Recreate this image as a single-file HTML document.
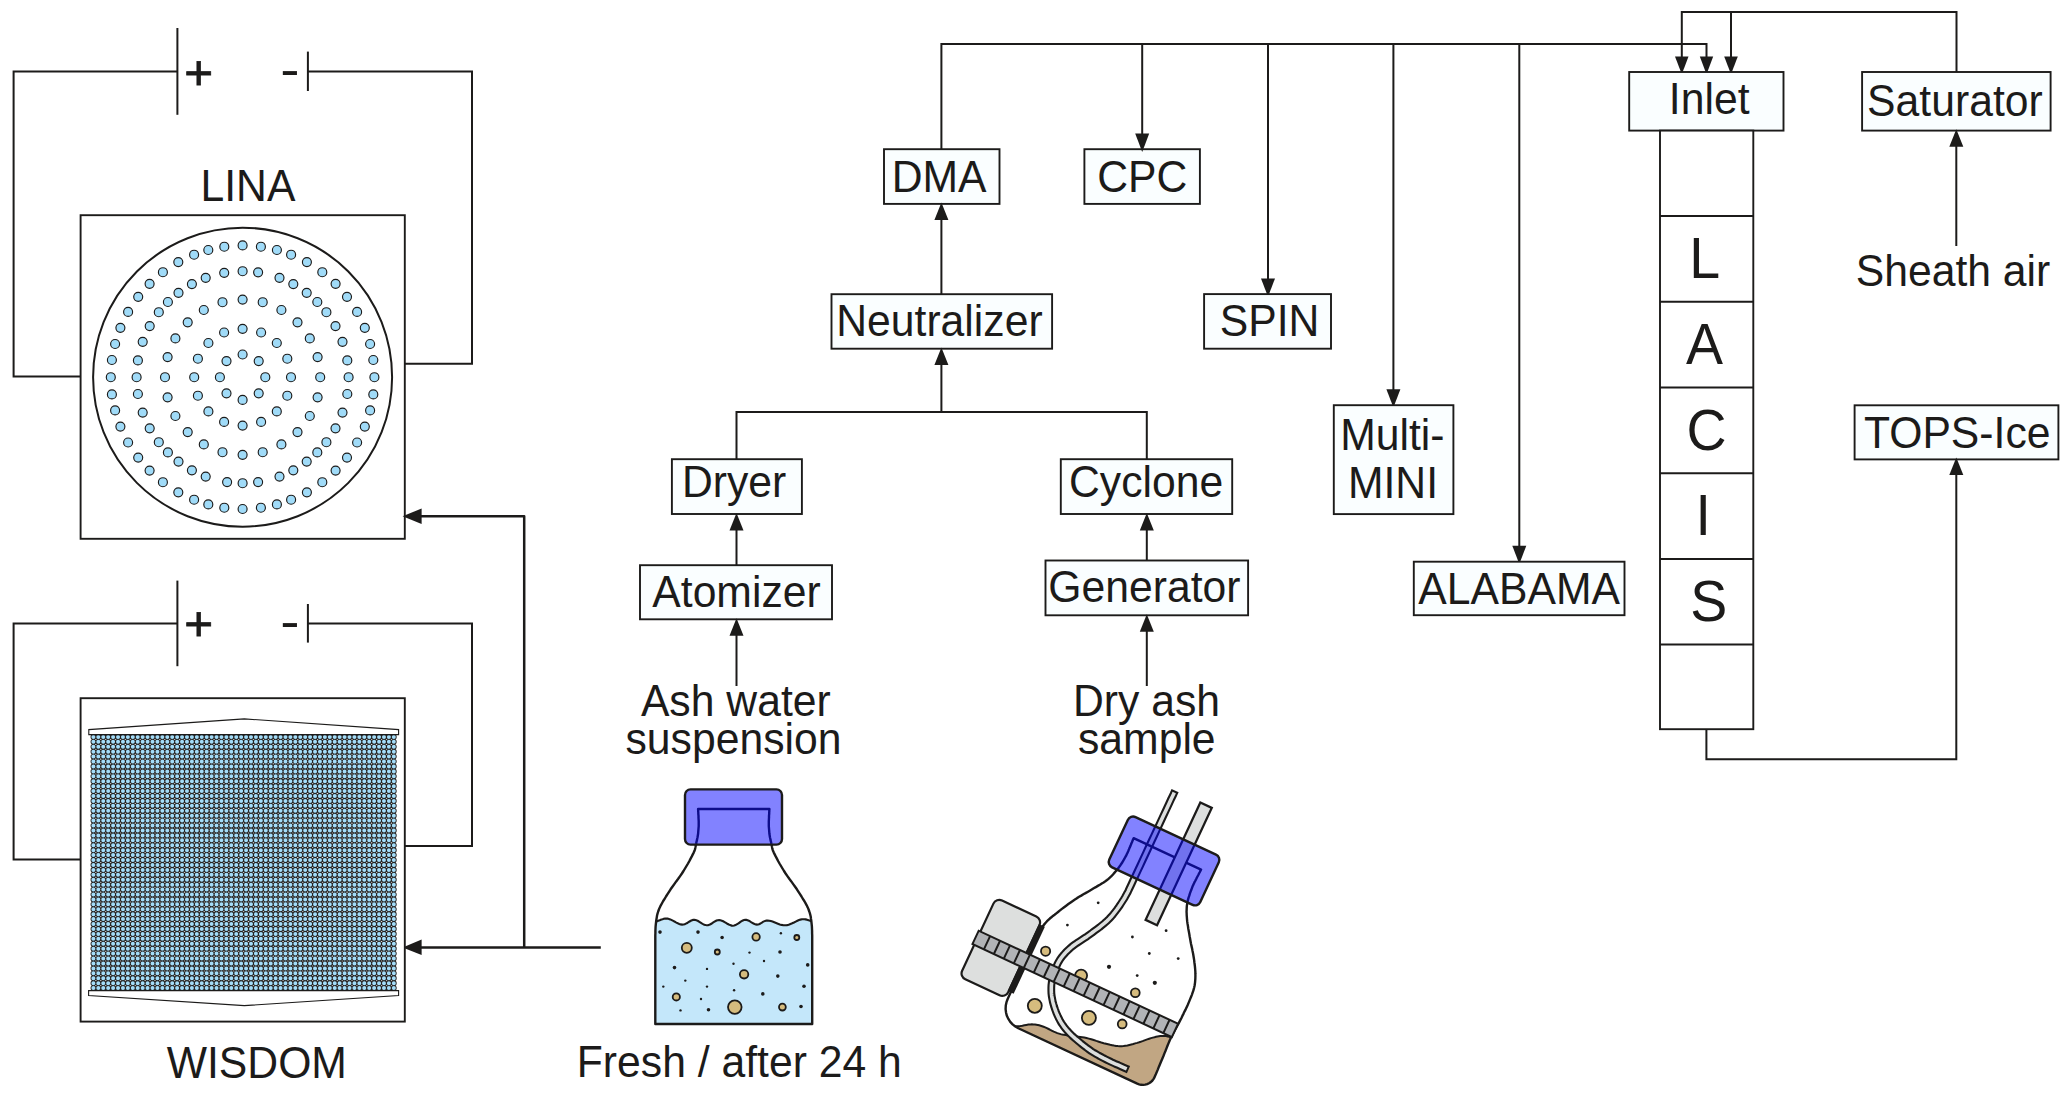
<!DOCTYPE html><html><head><meta charset="utf-8"><title>Setup</title><style>html,body{margin:0;padding:0;background:#fff}svg{display:block}text{font-family:"Liberation Sans",Arial,sans-serif;fill:#1c1b1a}</style></head><body>
<svg width="2066" height="1102" viewBox="0 0 2066 1102">
<rect width="2066" height="1102" fill="#fff"/>
<defs>
</defs>
<path d="M177.4,71.6 L13.6,71.6 L13.6,376.5 L80.6,376.5" fill="none" stroke="#1c1b1a" stroke-width="2.0" />
<path d="M307.9,71.6 L472.0,71.6 L472.0,363.8 L404.8,363.8" fill="none" stroke="#1c1b1a" stroke-width="2.0" />
<path d="M177.4,28.0 L177.4,114.8" fill="none" stroke="#1c1b1a" stroke-width="2.0" />
<path d="M307.9,51.6 L307.9,91.0" fill="none" stroke="#1c1b1a" stroke-width="2.0" />
<text transform="translate(198.7,88.6) scale(1,0.96)" font-size="49.5" text-anchor="middle" stroke="#1c1b1a" stroke-width="0.8">+</text>
<text transform="translate(289.8,85.8) scale(1,0.85)" font-size="58" text-anchor="middle" >-</text>
<text transform="translate(247.9,201.1) scale(1,1.055)" font-size="42.7" text-anchor="middle" >LINA</text>
<rect x="80.6" y="215.2" width="324.2" height="323.6" fill="#fff" stroke="#1c1b1a" stroke-width="1.9"/>
<circle cx="242.6" cy="377.2" r="149.5" fill="#fff" stroke="#1c1b1a" stroke-width="2"/>
<g fill="#a0dbf8" stroke="#1c1b1a" stroke-width="1.15">
<circle cx="110.8" cy="377.2" r="4.5"/>
<circle cx="111.9" cy="360.0" r="4.5"/>
<circle cx="111.9" cy="394.4" r="4.5"/>
<circle cx="115.1" cy="344.0" r="4.5"/>
<circle cx="115.1" cy="410.4" r="4.5"/>
<circle cx="120.4" cy="327.8" r="4.5"/>
<circle cx="120.4" cy="426.6" r="4.5"/>
<circle cx="128.1" cy="311.9" r="4.5"/>
<circle cx="128.1" cy="442.5" r="4.5"/>
<circle cx="136.6" cy="377.2" r="4.5"/>
<circle cx="137.9" cy="360.4" r="4.5"/>
<circle cx="137.9" cy="394.0" r="4.5"/>
<circle cx="138.2" cy="296.8" r="4.5"/>
<circle cx="138.2" cy="457.6" r="4.5"/>
<circle cx="142.7" cy="341.8" r="4.5"/>
<circle cx="142.7" cy="412.6" r="4.5"/>
<circle cx="149.6" cy="283.8" r="4.5"/>
<circle cx="149.6" cy="470.6" r="4.5"/>
<circle cx="149.7" cy="326.1" r="4.5"/>
<circle cx="149.7" cy="428.3" r="4.5"/>
<circle cx="158.8" cy="312.2" r="4.5"/>
<circle cx="158.8" cy="442.2" r="4.5"/>
<circle cx="162.9" cy="272.2" r="4.5"/>
<circle cx="162.9" cy="482.2" r="4.5"/>
<circle cx="165.0" cy="377.2" r="4.5"/>
<circle cx="167.6" cy="357.1" r="4.5"/>
<circle cx="167.6" cy="397.3" r="4.5"/>
<circle cx="167.9" cy="302.0" r="4.5"/>
<circle cx="167.9" cy="452.4" r="4.5"/>
<circle cx="175.4" cy="338.4" r="4.5"/>
<circle cx="175.4" cy="416.0" r="4.5"/>
<circle cx="178.3" cy="262.1" r="4.5"/>
<circle cx="178.3" cy="492.3" r="4.5"/>
<circle cx="178.5" cy="292.8" r="4.5"/>
<circle cx="178.5" cy="461.6" r="4.5"/>
<circle cx="187.7" cy="322.3" r="4.5"/>
<circle cx="187.7" cy="432.1" r="4.5"/>
<circle cx="191.9" cy="284.1" r="4.5"/>
<circle cx="191.9" cy="470.3" r="4.5"/>
<circle cx="194.1" cy="254.7" r="4.5"/>
<circle cx="194.1" cy="499.7" r="4.5"/>
<circle cx="194.2" cy="377.2" r="4.5"/>
<circle cx="197.9" cy="358.7" r="4.5"/>
<circle cx="197.9" cy="395.7" r="4.5"/>
<circle cx="203.8" cy="310.0" r="4.5"/>
<circle cx="203.8" cy="444.4" r="4.5"/>
<circle cx="205.7" cy="277.8" r="4.5"/>
<circle cx="205.7" cy="476.6" r="4.5"/>
<circle cx="208.3" cy="250.0" r="4.5"/>
<circle cx="208.3" cy="504.4" r="4.5"/>
<circle cx="208.4" cy="343.0" r="4.5"/>
<circle cx="208.4" cy="411.4" r="4.5"/>
<circle cx="219.9" cy="377.2" r="4.5"/>
<circle cx="222.5" cy="302.2" r="4.5"/>
<circle cx="222.5" cy="452.2" r="4.5"/>
<circle cx="224.1" cy="332.5" r="4.5"/>
<circle cx="224.1" cy="421.9" r="4.5"/>
<circle cx="224.2" cy="272.8" r="4.5"/>
<circle cx="224.3" cy="246.7" r="4.5"/>
<circle cx="224.3" cy="507.7" r="4.5"/>
<circle cx="226.5" cy="361.1" r="4.5"/>
<circle cx="226.5" cy="393.3" r="4.5"/>
<circle cx="227.1" cy="482.1" r="4.5"/>
<circle cx="242.6" cy="245.4" r="4.5"/>
<circle cx="242.6" cy="271.2" r="4.5"/>
<circle cx="242.6" cy="299.6" r="4.5"/>
<circle cx="242.6" cy="328.8" r="4.5"/>
<circle cx="242.6" cy="354.5" r="4.5"/>
<circle cx="242.6" cy="399.9" r="4.5"/>
<circle cx="242.6" cy="425.6" r="4.5"/>
<circle cx="242.6" cy="454.8" r="4.5"/>
<circle cx="242.6" cy="483.2" r="4.5"/>
<circle cx="242.6" cy="509.0" r="4.5"/>
<circle cx="258.1" cy="272.3" r="4.5"/>
<circle cx="258.1" cy="482.1" r="4.5"/>
<circle cx="258.7" cy="361.1" r="4.5"/>
<circle cx="258.7" cy="393.3" r="4.5"/>
<circle cx="260.9" cy="246.7" r="4.5"/>
<circle cx="260.9" cy="507.7" r="4.5"/>
<circle cx="261.1" cy="332.5" r="4.5"/>
<circle cx="261.1" cy="421.9" r="4.5"/>
<circle cx="262.7" cy="302.2" r="4.5"/>
<circle cx="262.7" cy="452.2" r="4.5"/>
<circle cx="265.3" cy="377.2" r="4.5"/>
<circle cx="276.8" cy="343.0" r="4.5"/>
<circle cx="276.8" cy="411.4" r="4.5"/>
<circle cx="276.9" cy="250.0" r="4.5"/>
<circle cx="276.9" cy="504.4" r="4.5"/>
<circle cx="279.5" cy="277.8" r="4.5"/>
<circle cx="279.5" cy="476.6" r="4.5"/>
<circle cx="281.4" cy="310.0" r="4.5"/>
<circle cx="281.4" cy="444.4" r="4.5"/>
<circle cx="287.3" cy="358.7" r="4.5"/>
<circle cx="287.3" cy="395.7" r="4.5"/>
<circle cx="291.0" cy="377.2" r="4.5"/>
<circle cx="291.1" cy="254.7" r="4.5"/>
<circle cx="291.1" cy="499.7" r="4.5"/>
<circle cx="293.3" cy="284.1" r="4.5"/>
<circle cx="293.3" cy="470.3" r="4.5"/>
<circle cx="297.5" cy="322.3" r="4.5"/>
<circle cx="297.5" cy="432.1" r="4.5"/>
<circle cx="306.7" cy="292.8" r="4.5"/>
<circle cx="306.7" cy="461.6" r="4.5"/>
<circle cx="306.9" cy="262.1" r="4.5"/>
<circle cx="306.9" cy="492.3" r="4.5"/>
<circle cx="309.8" cy="338.4" r="4.5"/>
<circle cx="309.8" cy="416.0" r="4.5"/>
<circle cx="317.3" cy="302.0" r="4.5"/>
<circle cx="317.3" cy="452.4" r="4.5"/>
<circle cx="317.6" cy="357.1" r="4.5"/>
<circle cx="317.6" cy="397.3" r="4.5"/>
<circle cx="320.2" cy="377.2" r="4.5"/>
<circle cx="322.3" cy="272.2" r="4.5"/>
<circle cx="322.3" cy="482.2" r="4.5"/>
<circle cx="326.4" cy="312.2" r="4.5"/>
<circle cx="326.4" cy="442.2" r="4.5"/>
<circle cx="335.5" cy="326.1" r="4.5"/>
<circle cx="335.5" cy="428.3" r="4.5"/>
<circle cx="335.6" cy="283.8" r="4.5"/>
<circle cx="335.6" cy="470.6" r="4.5"/>
<circle cx="342.5" cy="341.8" r="4.5"/>
<circle cx="342.5" cy="412.6" r="4.5"/>
<circle cx="347.0" cy="296.8" r="4.5"/>
<circle cx="347.0" cy="457.6" r="4.5"/>
<circle cx="347.3" cy="360.4" r="4.5"/>
<circle cx="347.3" cy="394.0" r="4.5"/>
<circle cx="348.6" cy="377.2" r="4.5"/>
<circle cx="357.1" cy="311.9" r="4.5"/>
<circle cx="357.1" cy="442.5" r="4.5"/>
<circle cx="364.8" cy="327.8" r="4.5"/>
<circle cx="364.8" cy="426.6" r="4.5"/>
<circle cx="370.1" cy="344.0" r="4.5"/>
<circle cx="370.1" cy="410.4" r="4.5"/>
<circle cx="373.3" cy="360.0" r="4.5"/>
<circle cx="373.3" cy="394.4" r="4.5"/>
<circle cx="374.4" cy="377.2" r="4.5"/>
</g>
<path d="M420.0,516.2 L524.2,516.2 L524.2,947.4" fill="none" stroke="#1c1b1a" stroke-width="2.5" stroke-linejoin="round"/>
<path d="M420.0,947.4 L600.8,947.4" fill="none" stroke="#1c1b1a" stroke-width="2.5" />
<polygon points="402.6,516.3 421.6,508.5 421.6,524.0" fill="#1c1b1a"/>
<polygon points="402.6,947.4 421.6,939.6 421.6,955.1" fill="#1c1b1a"/>
<path d="M177.4,623.4 L13.6,623.4 L13.6,859.4 L80.6,859.4" fill="none" stroke="#1c1b1a" stroke-width="2.0" />
<path d="M307.9,623.4 L472.0,623.4 L472.0,846.0 L404.8,846.0" fill="none" stroke="#1c1b1a" stroke-width="2.0" />
<path d="M177.4,580.6 L177.4,666.2" fill="none" stroke="#1c1b1a" stroke-width="2.0" />
<path d="M307.9,604.0 L307.9,642.6" fill="none" stroke="#1c1b1a" stroke-width="2.0" />
<text transform="translate(198.7,640.4) scale(1,0.96)" font-size="49.5" text-anchor="middle" stroke="#1c1b1a" stroke-width="0.8">+</text>
<text transform="translate(289.8,637.6) scale(1,0.85)" font-size="58" text-anchor="middle" >-</text>
<rect x="80.6" y="698.2" width="324.2" height="323.4" fill="#fff" stroke="#1c1b1a" stroke-width="1.9"/>
<path d="M93.4,736.90h300.6M93.4,741.82h300.6M93.4,746.75h300.6M93.4,751.67h300.6M93.4,756.60h300.6M93.4,761.52h300.6M93.4,766.45h300.6M93.4,771.38h300.6M93.4,776.30h300.6M93.4,781.23h300.6M93.4,786.15h300.6M93.4,791.07h300.6M93.4,796.00h300.6M93.4,800.92h300.6M93.4,805.85h300.6M93.4,810.77h300.6M93.4,815.70h300.6M93.4,820.62h300.6M93.4,825.55h300.6M93.4,830.48h300.6M93.4,835.40h300.6M93.4,840.32h300.6M93.4,845.25h300.6M93.4,850.17h300.6M93.4,855.10h300.6M93.4,860.02h300.6M93.4,864.95h300.6M93.4,869.88h300.6M93.4,874.80h300.6M93.4,879.72h300.6M93.4,884.65h300.6M93.4,889.57h300.6M93.4,894.50h300.6M93.4,899.42h300.6M93.4,904.35h300.6M93.4,909.27h300.6M93.4,914.20h300.6M93.4,919.12h300.6M93.4,924.05h300.6M93.4,928.97h300.6M93.4,933.90h300.6M93.4,938.82h300.6M93.4,943.75h300.6M93.4,948.67h300.6M93.4,953.60h300.6M93.4,958.52h300.6M93.4,963.45h300.6M93.4,968.38h300.6M93.4,973.30h300.6M93.4,978.22h300.6M93.4,983.15h300.6M93.4,988.07h300.6" fill="none" stroke="#242322" stroke-width="5.75" stroke-linecap="round" stroke-dasharray="0 4.925"/>
<path d="M93.4,736.90h300.6M93.4,741.82h300.6M93.4,746.75h300.6M93.4,751.67h300.6M93.4,756.60h300.6M93.4,761.52h300.6M93.4,766.45h300.6M93.4,771.38h300.6M93.4,776.30h300.6M93.4,781.23h300.6M93.4,786.15h300.6M93.4,791.07h300.6M93.4,796.00h300.6M93.4,800.92h300.6M93.4,805.85h300.6M93.4,810.77h300.6M93.4,815.70h300.6M93.4,820.62h300.6M93.4,825.55h300.6M93.4,830.48h300.6M93.4,835.40h300.6M93.4,840.32h300.6M93.4,845.25h300.6M93.4,850.17h300.6M93.4,855.10h300.6M93.4,860.02h300.6M93.4,864.95h300.6M93.4,869.88h300.6M93.4,874.80h300.6M93.4,879.72h300.6M93.4,884.65h300.6M93.4,889.57h300.6M93.4,894.50h300.6M93.4,899.42h300.6M93.4,904.35h300.6M93.4,909.27h300.6M93.4,914.20h300.6M93.4,919.12h300.6M93.4,924.05h300.6M93.4,928.97h300.6M93.4,933.90h300.6M93.4,938.82h300.6M93.4,943.75h300.6M93.4,948.67h300.6M93.4,953.60h300.6M93.4,958.52h300.6M93.4,963.45h300.6M93.4,968.38h300.6M93.4,973.30h300.6M93.4,978.22h300.6M93.4,983.15h300.6M93.4,988.07h300.6" fill="none" stroke="#a4dcf8" stroke-width="4.0" stroke-linecap="round" stroke-dasharray="0 4.925"/>
<polygon points="88.8,734.6 88.8,729.6 244.3,718.9 398.6,729.6 398.6,734.6" fill="#fff" stroke="#1c1b1a" stroke-width="1.1"/>
<polygon points="88.6,990.6 88.6,995.6 244.3,1005.6 398.6,995.6 398.6,990.6" fill="#fff" stroke="#1c1b1a" stroke-width="1.1"/>
<text transform="translate(256.8,1077.7) scale(1,1.055)" font-size="42.7" text-anchor="middle" >WISDOM</text>
<path d="M941.4,149.2 L941.4,43.9 L1706.5,43.9 L1706.5,60.0" fill="none" stroke="#1c1b1a" stroke-width="2.0" />
<rect x="884.0" y="149.2" width="115.5" height="54.7" fill="#fafeff" stroke="#1c1b1a" stroke-width="1.9"/>
<text transform="translate(939.1,191.6) scale(1,1.055)" font-size="42.7" text-anchor="middle" >DMA</text>
<rect x="1084.4" y="149.2" width="115.5" height="54.7" fill="#fafeff" stroke="#1c1b1a" stroke-width="1.9"/>
<text transform="translate(1142.2,191.6) scale(1,1.055)" font-size="42.7" text-anchor="middle" >CPC</text>
<path d="M1142.2,43.9 L1142.2,135.0" fill="none" stroke="#1c1b1a" stroke-width="2.0" />
<polygon points="1142.2,151.9 1135.2,133.6 1149.2,133.6" fill="#1c1b1a"/>
<path d="M1268.0,43.9 L1268.0,280.0" fill="none" stroke="#1c1b1a" stroke-width="2.0" />
<polygon points="1268.0,296.7 1261.0,278.4 1275.0,278.4" fill="#1c1b1a"/>
<rect x="1204.1" y="294.1" width="126.9" height="54.6" fill="#fafeff" stroke="#1c1b1a" stroke-width="1.9"/>
<text transform="translate(1269.5,335.9) scale(1,1.055)" font-size="42.7" text-anchor="middle" >SPIN</text>
<path d="M1393.4,43.9 L1393.4,390.0" fill="none" stroke="#1c1b1a" stroke-width="2.0" />
<polygon points="1393.4,407.5 1386.4,389.2 1400.4,389.2" fill="#1c1b1a"/>
<rect x="1333.8" y="405.2" width="119.6" height="108.9" fill="#fafeff" stroke="#1c1b1a" stroke-width="1.9"/>
<text transform="translate(1392.4,449.7) scale(1,1.055)" font-size="42.7" text-anchor="middle" >Multi-</text>
<text transform="translate(1393.0,497.9) scale(1,1.055)" font-size="42.7" text-anchor="middle" >MINI</text>
<path d="M1519.3,43.9 L1519.3,548.0" fill="none" stroke="#1c1b1a" stroke-width="2.0" />
<polygon points="1519.3,564.1 1512.3,545.8 1526.3,545.8" fill="#1c1b1a"/>
<rect x="1413.8" y="561.7" width="210.7" height="53.5" fill="#fafeff" stroke="#1c1b1a" stroke-width="1.9"/>
<text transform="translate(1519.1,603.8) scale(1,1.055)" font-size="42.7" text-anchor="middle" >ALABAMA</text>
<path d="M941.4,219.0 L941.4,294.2" fill="none" stroke="#1c1b1a" stroke-width="2.0" />
<polygon points="941.4,202.5 934.4,220.0 948.4,220.0" fill="#1c1b1a"/>
<rect x="831.5" y="294.2" width="220.6" height="54.5" fill="#fafeff" stroke="#1c1b1a" stroke-width="1.9"/>
<text transform="translate(939.4,335.6) scale(1,1.055)" font-size="42.7" text-anchor="middle" >Neutralizer</text>
<path d="M941.4,364.0 L941.4,412.0" fill="none" stroke="#1c1b1a" stroke-width="2.0" />
<polygon points="941.4,347.5 934.4,365.0 948.4,365.0" fill="#1c1b1a"/>
<path d="M736.5,459.2 L736.5,412.0 L1146.8,412.0 L1146.8,459.2" fill="none" stroke="#1c1b1a" stroke-width="2.0" />
<rect x="671.9" y="459.2" width="130.0" height="54.8" fill="#fafeff" stroke="#1c1b1a" stroke-width="1.9"/>
<text transform="translate(734.1,497.0) scale(1,1.055)" font-size="42.7" text-anchor="middle" >Dryer</text>
<rect x="1060.8" y="459.2" width="171.4" height="54.8" fill="#fafeff" stroke="#1c1b1a" stroke-width="1.9"/>
<text transform="translate(1146.1,497.0) scale(1,1.055)" font-size="42.7" text-anchor="middle" >Cyclone</text>
<path d="M736.5,530.0 L736.5,565.2" fill="none" stroke="#1c1b1a" stroke-width="2.0" />
<polygon points="736.5,513.0 729.5,530.5 743.5,530.5" fill="#1c1b1a"/>
<path d="M1146.8,530.0 L1146.8,560.5" fill="none" stroke="#1c1b1a" stroke-width="2.0" />
<polygon points="1146.8,513.0 1139.8,530.5 1153.8,530.5" fill="#1c1b1a"/>
<rect x="640.0" y="565.2" width="192.0" height="54.1" fill="#fafeff" stroke="#1c1b1a" stroke-width="1.9"/>
<text transform="translate(736.5,607.0) scale(1,1.055)" font-size="42.7" text-anchor="middle" >Atomizer</text>
<rect x="1045.5" y="560.5" width="202.6" height="54.8" fill="#fafeff" stroke="#1c1b1a" stroke-width="1.9"/>
<text transform="translate(1144.4,602.2) scale(1,1.055)" font-size="42.7" text-anchor="middle" >Generator</text>
<path d="M736.5,635.0 L736.5,686.0" fill="none" stroke="#1c1b1a" stroke-width="2.0" />
<polygon points="736.5,618.3 729.5,635.8 743.5,635.8" fill="#1c1b1a"/>
<path d="M1146.8,631.0 L1146.8,686.0" fill="none" stroke="#1c1b1a" stroke-width="2.0" />
<polygon points="1146.8,614.3 1139.8,631.8 1153.8,631.8" fill="#1c1b1a"/>
<text transform="translate(735.8,715.9) scale(1,1.055)" font-size="42.7" text-anchor="middle" >Ash water</text>
<text transform="translate(733.5,754.0) scale(1,1.055)" font-size="42.7" text-anchor="middle" >suspension</text>
<text transform="translate(1146.5,715.9) scale(1,1.055)" font-size="42.7" text-anchor="middle" >Dry ash</text>
<text transform="translate(1146.8,754.0) scale(1,1.055)" font-size="42.7" text-anchor="middle" >sample</text>
<text transform="translate(739.3,1077.3) scale(1,1.055)" font-size="42.7" text-anchor="middle" >Fresh / after 24 h</text>
<path d="M1956.5,72.0 L1956.5,12.0 L1681.8,12.0 L1681.8,60.0" fill="none" stroke="#1c1b1a" stroke-width="2.0" />
<path d="M1731.0,12.0 L1731.0,60.0" fill="none" stroke="#1c1b1a" stroke-width="2.0" />
<polygon points="1681.8,74.3 1675.0,56.5 1688.5,56.5" fill="#1c1b1a"/>
<polygon points="1706.5,74.3 1699.8,56.5 1713.2,56.5" fill="#1c1b1a"/>
<polygon points="1731.0,74.3 1724.2,56.5 1737.8,56.5" fill="#1c1b1a"/>
<rect x="1629.2" y="72.0" width="154.3" height="58.6" fill="#fafeff" stroke="#1c1b1a" stroke-width="1.9"/>
<text transform="translate(1709.2,113.5) scale(1,1.055)" font-size="42.7" text-anchor="middle" >Inlet</text>
<rect x="1862.1" y="72.0" width="188.5" height="58.6" fill="#fafeff" stroke="#1c1b1a" stroke-width="1.9"/>
<text transform="translate(1954.9,115.9) scale(1,1.055)" font-size="42.7" text-anchor="middle" >Saturator</text>
<path d="M1956.3,146.0 L1956.3,246.0" fill="none" stroke="#1c1b1a" stroke-width="2.0" />
<polygon points="1956.3,129.3 1949.3,146.8 1963.3,146.8" fill="#1c1b1a"/>
<text transform="translate(1953.0,285.6) scale(1,1.055)" font-size="42.7" text-anchor="middle" >Sheath air</text>
<rect x="1854.6" y="405.3" width="203.8" height="54.1" fill="#fafeff" stroke="#1c1b1a" stroke-width="1.9"/>
<text transform="translate(1957.2,447.7) scale(1,1.055)" font-size="42.7" text-anchor="middle" >TOPS-Ice</text>
<rect x="1660" y="130.6" width="93.3" height="598.6" fill="#fff" stroke="#1c1b1a" stroke-width="1.9"/>
<path d="M1660.0,215.9 L1753.3,215.9" fill="none" stroke="#1c1b1a" stroke-width="2.0" />
<path d="M1660.0,301.7 L1753.3,301.7" fill="none" stroke="#1c1b1a" stroke-width="2.0" />
<path d="M1660.0,387.5 L1753.3,387.5" fill="none" stroke="#1c1b1a" stroke-width="2.0" />
<path d="M1660.0,473.3 L1753.3,473.3" fill="none" stroke="#1c1b1a" stroke-width="2.0" />
<path d="M1660.0,559.1 L1753.3,559.1" fill="none" stroke="#1c1b1a" stroke-width="2.0" />
<path d="M1660.0,644.6 L1753.3,644.6" fill="none" stroke="#1c1b1a" stroke-width="2.0" />
<text transform="translate(1704.6,277.8) scale(1,1.05)" font-size="55.5" text-anchor="middle" >L</text>
<text transform="translate(1704.6,363.8) scale(1,1.05)" font-size="55.5" text-anchor="middle" >A</text>
<text transform="translate(1706.6,449.7) scale(1,1.05)" font-size="55.5" text-anchor="middle" >C</text>
<text transform="translate(1703.3,535.3) scale(1,1.05)" font-size="55.5" text-anchor="middle" >I</text>
<text transform="translate(1708.8,620.8) scale(1,1.05)" font-size="55.5" text-anchor="middle" >S</text>
<path d="M1706.4,729.2 L1706.4,759.3 L1956.3,759.3 L1956.3,474.0" fill="none" stroke="#1c1b1a" stroke-width="2.0" />
<polygon points="1956.3,457.6 1949.3,475.1 1963.3,475.1" fill="#1c1b1a"/><clipPath id="b1clip"><polygon points="698.1,809.0 698.1,809.6 698.2,810.4 698.2,811.4 698.3,812.5 698.3,813.6 698.4,814.8 698.5,815.9 698.5,817.0 698.5,818.0 698.6,819.0 698.6,819.9 698.7,820.9 698.7,821.9 698.7,822.9 698.7,823.9 698.7,825.0 698.7,826.2 698.6,827.4 698.5,828.6 698.4,829.9 698.3,831.2 698.2,832.5 698.1,833.8 697.9,835.0 697.7,836.2 697.5,837.5 697.2,838.7 697.0,839.9 696.7,841.1 696.4,842.3 696.2,843.5 695.9,844.6 695.7,845.6 695.6,846.5 695.4,847.3 695.3,848.0 695.1,848.9 694.8,849.9 694.4,851.1 693.7,852.6 692.8,854.4 691.8,856.4 690.6,858.6 689.4,861.0 688.0,863.5 686.5,866.0 685.0,868.5 683.5,871.0 681.9,873.5 680.1,876.1 678.2,878.8 676.2,881.4 674.3,884.1 672.4,886.8 670.6,889.3 669.0,891.8 667.5,894.2 666.0,896.5 664.6,898.8 663.2,901.0 662.0,903.2 660.8,905.3 659.8,907.4 658.9,909.5 658.2,911.5 657.6,913.4 657.1,915.3 656.8,917.1 656.5,919.0 656.2,920.8 656.0,922.6 655.8,924.5 655.6,926.5 655.5,928.7 655.4,931.0 655.4,933.2 655.3,935.3 655.3,937.2 655.3,938.8 655.3,940.0 655.3,1024.0 812.2,1024.0 812.2,940.0 812.2,938.8 812.2,937.2 812.2,935.3 812.1,933.2 812.1,931.0 812.0,928.7 811.9,926.5 811.7,924.5 811.5,922.6 811.3,920.8 811.0,919.0 810.8,917.1 810.4,915.3 809.9,913.4 809.3,911.5 808.6,909.5 807.7,907.4 806.7,905.3 805.5,903.2 804.3,901.0 802.9,898.8 801.5,896.5 800.0,894.2 798.5,891.8 796.9,889.3 795.1,886.8 793.2,884.1 791.3,881.4 789.3,878.8 787.4,876.1 785.6,873.5 784.0,871.0 782.5,868.5 781.0,866.0 779.5,863.5 778.1,861.0 776.9,858.6 775.7,856.4 774.7,854.4 773.8,852.6 773.1,851.1 772.7,849.9 772.4,848.9 772.2,848.0 772.1,847.3 771.9,846.5 771.8,845.6 771.6,844.6 771.3,843.5 771.1,842.3 770.8,841.1 770.5,839.9 770.3,838.7 770.0,837.5 769.8,836.2 769.6,835.0 769.4,833.8 769.3,832.5 769.2,831.2 769.1,829.9 769.0,828.6 768.9,827.4 768.8,826.2 768.8,825.0 768.8,823.9 768.8,822.9 768.8,821.9 768.8,820.9 768.9,819.9 768.9,819.0 769.0,818.0 769.0,817.0 769.0,815.9 769.1,814.8 769.2,813.6 769.2,812.5 769.3,811.4 769.3,810.4 769.4,809.6 769.4,809.0"/></clipPath>
<polygon points="698.1,809.0 698.1,809.6 698.2,810.4 698.2,811.4 698.3,812.5 698.3,813.6 698.4,814.8 698.5,815.9 698.5,817.0 698.5,818.0 698.6,819.0 698.6,819.9 698.7,820.9 698.7,821.9 698.7,822.9 698.7,823.9 698.7,825.0 698.7,826.2 698.6,827.4 698.5,828.6 698.4,829.9 698.3,831.2 698.2,832.5 698.1,833.8 697.9,835.0 697.7,836.2 697.5,837.5 697.2,838.7 697.0,839.9 696.7,841.1 696.4,842.3 696.2,843.5 695.9,844.6 695.7,845.6 695.6,846.5 695.4,847.3 695.3,848.0 695.1,848.9 694.8,849.9 694.4,851.1 693.7,852.6 692.8,854.4 691.8,856.4 690.6,858.6 689.4,861.0 688.0,863.5 686.5,866.0 685.0,868.5 683.5,871.0 681.9,873.5 680.1,876.1 678.2,878.8 676.2,881.4 674.3,884.1 672.4,886.8 670.6,889.3 669.0,891.8 667.5,894.2 666.0,896.5 664.6,898.8 663.2,901.0 662.0,903.2 660.8,905.3 659.8,907.4 658.9,909.5 658.2,911.5 657.6,913.4 657.1,915.3 656.8,917.1 656.5,919.0 656.2,920.8 656.0,922.6 655.8,924.5 655.6,926.5 655.5,928.7 655.4,931.0 655.4,933.2 655.3,935.3 655.3,937.2 655.3,938.8 655.3,940.0 655.3,1024.0 812.2,1024.0 812.2,940.0 812.2,938.8 812.2,937.2 812.2,935.3 812.1,933.2 812.1,931.0 812.0,928.7 811.9,926.5 811.7,924.5 811.5,922.6 811.3,920.8 811.0,919.0 810.8,917.1 810.4,915.3 809.9,913.4 809.3,911.5 808.6,909.5 807.7,907.4 806.7,905.3 805.5,903.2 804.3,901.0 802.9,898.8 801.5,896.5 800.0,894.2 798.5,891.8 796.9,889.3 795.1,886.8 793.2,884.1 791.3,881.4 789.3,878.8 787.4,876.1 785.6,873.5 784.0,871.0 782.5,868.5 781.0,866.0 779.5,863.5 778.1,861.0 776.9,858.6 775.7,856.4 774.7,854.4 773.8,852.6 773.1,851.1 772.7,849.9 772.4,848.9 772.2,848.0 772.1,847.3 771.9,846.5 771.8,845.6 771.6,844.6 771.3,843.5 771.1,842.3 770.8,841.1 770.5,839.9 770.3,838.7 770.0,837.5 769.8,836.2 769.6,835.0 769.4,833.8 769.3,832.5 769.2,831.2 769.1,829.9 769.0,828.6 768.9,827.4 768.8,826.2 768.8,825.0 768.8,823.9 768.8,822.9 768.8,821.9 768.8,820.9 768.9,819.9 768.9,819.0 769.0,818.0 769.0,817.0 769.0,815.9 769.1,814.8 769.2,813.6 769.2,812.5 769.3,811.4 769.3,810.4 769.4,809.6 769.4,809.0" fill="#fff"/>
<polygon clip-path="url(#b1clip)" points="650.0,923.5 650.4,923.4 650.8,923.2 651.3,923.1 651.8,922.9 652.4,922.7 653.1,922.5 653.8,922.2 654.6,922.0 655.4,921.7 656.3,921.5 657.2,921.2 658.2,920.8 659.2,920.4 660.3,920.0 661.4,919.5 662.6,919.2 663.8,918.8 665.1,918.6 666.3,918.5 667.6,918.6 668.9,918.9 670.3,919.4 671.8,920.1 673.3,920.9 674.8,921.7 676.3,922.6 677.8,923.3 679.3,923.9 680.7,924.4 682.1,924.6 683.4,924.5 684.7,924.2 685.9,923.6 687.2,923.0 688.4,922.2 689.6,921.5 690.8,920.8 692.0,920.3 693.2,919.9 694.4,919.8 695.6,920.0 696.9,920.4 698.1,921.0 699.4,921.8 700.6,922.6 701.8,923.4 703.1,924.1 704.3,924.7 705.6,925.1 706.8,925.3 708.0,925.2 709.2,924.8 710.5,924.2 711.7,923.5 712.9,922.7 714.1,921.9 715.3,921.2 716.5,920.6 717.8,920.2 719.1,920.1 720.4,920.3 721.8,920.7 723.2,921.3 724.6,922.1 726.0,922.9 727.4,923.8 728.8,924.5 730.2,925.1 731.6,925.6 732.9,925.7 734.2,925.5 735.5,925.1 736.7,924.4 738.0,923.7 739.2,922.8 740.4,921.9 741.6,921.1 742.8,920.5 744.0,920.0 745.2,919.8 746.4,919.9 747.6,920.2 748.8,920.7 750.0,921.4 751.1,922.1 752.3,922.8 753.5,923.5 754.6,924.0 755.8,924.4 756.9,924.6 758.0,924.5 759.0,924.2 760.0,923.7 761.0,923.2 761.9,922.6 762.9,921.9 764.0,921.4 765.1,920.9 766.4,920.6 767.7,920.5 769.2,920.7 770.8,921.1 772.5,921.6 774.3,922.3 776.1,923.0 777.9,923.7 779.8,924.4 781.6,924.9 783.5,925.2 785.2,925.3 786.9,925.1 788.7,924.7 790.5,924.0 792.2,923.3 794.0,922.5 795.7,921.6 797.4,920.8 799.0,920.1 800.5,919.6 801.9,919.3 803.2,919.2 804.4,919.2 805.6,919.4 806.6,919.6 807.7,919.9 808.6,920.2 809.6,920.6 810.5,920.9 811.4,921.3 812.3,921.5 813.2,921.7 814.1,921.9 815.1,922.2 815.9,922.4 816.8,922.6 817.6,922.9 818.3,923.1 819.0,923.2 819.6,923.4 820.0,923.5 820,1030 650,1030" fill="#c4e7fa"/>
<polyline clip-path="url(#b1clip)" points="650.0,923.5 650.4,923.4 650.8,923.2 651.3,923.1 651.8,922.9 652.4,922.7 653.1,922.5 653.8,922.2 654.6,922.0 655.4,921.7 656.3,921.5 657.2,921.2 658.2,920.8 659.2,920.4 660.3,920.0 661.4,919.5 662.6,919.2 663.8,918.8 665.1,918.6 666.3,918.5 667.6,918.6 668.9,918.9 670.3,919.4 671.8,920.1 673.3,920.9 674.8,921.7 676.3,922.6 677.8,923.3 679.3,923.9 680.7,924.4 682.1,924.6 683.4,924.5 684.7,924.2 685.9,923.6 687.2,923.0 688.4,922.2 689.6,921.5 690.8,920.8 692.0,920.3 693.2,919.9 694.4,919.8 695.6,920.0 696.9,920.4 698.1,921.0 699.4,921.8 700.6,922.6 701.8,923.4 703.1,924.1 704.3,924.7 705.6,925.1 706.8,925.3 708.0,925.2 709.2,924.8 710.5,924.2 711.7,923.5 712.9,922.7 714.1,921.9 715.3,921.2 716.5,920.6 717.8,920.2 719.1,920.1 720.4,920.3 721.8,920.7 723.2,921.3 724.6,922.1 726.0,922.9 727.4,923.8 728.8,924.5 730.2,925.1 731.6,925.6 732.9,925.7 734.2,925.5 735.5,925.1 736.7,924.4 738.0,923.7 739.2,922.8 740.4,921.9 741.6,921.1 742.8,920.5 744.0,920.0 745.2,919.8 746.4,919.9 747.6,920.2 748.8,920.7 750.0,921.4 751.1,922.1 752.3,922.8 753.5,923.5 754.6,924.0 755.8,924.4 756.9,924.6 758.0,924.5 759.0,924.2 760.0,923.7 761.0,923.2 761.9,922.6 762.9,921.9 764.0,921.4 765.1,920.9 766.4,920.6 767.7,920.5 769.2,920.7 770.8,921.1 772.5,921.6 774.3,922.3 776.1,923.0 777.9,923.7 779.8,924.4 781.6,924.9 783.5,925.2 785.2,925.3 786.9,925.1 788.7,924.7 790.5,924.0 792.2,923.3 794.0,922.5 795.7,921.6 797.4,920.8 799.0,920.1 800.5,919.6 801.9,919.3 803.2,919.2 804.4,919.2 805.6,919.4 806.6,919.6 807.7,919.9 808.6,920.2 809.6,920.6 810.5,920.9 811.4,921.3 812.3,921.5 813.2,921.7 814.1,921.9 815.1,922.2 815.9,922.4 816.8,922.6 817.6,922.9 818.3,923.1 819.0,923.2 819.6,923.4 820.0,923.5" fill="none" stroke="#1c1b1a" stroke-width="2.1"/>
<g fill="#d6bc7e" stroke="#1c1b1a" stroke-width="1.8"><circle cx="686.8" cy="947.8" r="5.0"/><circle cx="756.1" cy="936.9" r="3.7"/><circle cx="796.8" cy="937.5" r="2.5"/><circle cx="717.3" cy="952" r="2.5"/><circle cx="744.1" cy="974.3" r="4.2"/><circle cx="676.3" cy="996.9" r="3.6"/><circle cx="734.8" cy="1007.1" r="6.8"/><circle cx="782.4" cy="1007.1" r="3.4"/></g>
<g fill="#1c1b1a"><circle cx="660" cy="932.1" r="1.8"/><circle cx="698" cy="932.1" r="1.8"/><circle cx="722.1" cy="937.5" r="1.8"/><circle cx="780.9" cy="933.3" r="1.2"/><circle cx="749.5" cy="952.6" r="1.2"/><circle cx="780" cy="952" r="1.8"/><circle cx="764" cy="961" r="1.2"/><circle cx="807.7" cy="964.9" r="1.8"/><circle cx="674.5" cy="967.6" r="1.8"/><circle cx="707" cy="968.9" r="1.2"/><circle cx="733.5" cy="963.7" r="1.2"/><circle cx="685.3" cy="980.6" r="1.2"/><circle cx="777.8" cy="976.1" r="1.8"/><circle cx="663.3" cy="986.6" r="1.2"/><circle cx="707" cy="986.6" r="1.2"/><circle cx="734.1" cy="990.2" r="1.2"/><circle cx="804" cy="986.3" r="1.8"/><circle cx="762.8" cy="993.9" r="1.8"/><circle cx="701" cy="999" r="1.2"/><circle cx="680.5" cy="1010.4" r="1.2"/><circle cx="708.5" cy="1009.8" r="1.8"/><circle cx="801" cy="1006.5" r="1.8"/></g>
<polygon points="698.1,809.0 698.1,809.6 698.2,810.4 698.2,811.4 698.3,812.5 698.3,813.6 698.4,814.8 698.5,815.9 698.5,817.0 698.5,818.0 698.6,819.0 698.6,819.9 698.7,820.9 698.7,821.9 698.7,822.9 698.7,823.9 698.7,825.0 698.7,826.2 698.6,827.4 698.5,828.6 698.4,829.9 698.3,831.2 698.2,832.5 698.1,833.8 697.9,835.0 697.7,836.2 697.5,837.5 697.2,838.7 697.0,839.9 696.7,841.1 696.4,842.3 696.2,843.5 695.9,844.6 695.7,845.6 695.6,846.5 695.4,847.3 695.3,848.0 695.1,848.9 694.8,849.9 694.4,851.1 693.7,852.6 692.8,854.4 691.8,856.4 690.6,858.6 689.4,861.0 688.0,863.5 686.5,866.0 685.0,868.5 683.5,871.0 681.9,873.5 680.1,876.1 678.2,878.8 676.2,881.4 674.3,884.1 672.4,886.8 670.6,889.3 669.0,891.8 667.5,894.2 666.0,896.5 664.6,898.8 663.2,901.0 662.0,903.2 660.8,905.3 659.8,907.4 658.9,909.5 658.2,911.5 657.6,913.4 657.1,915.3 656.8,917.1 656.5,919.0 656.2,920.8 656.0,922.6 655.8,924.5 655.6,926.5 655.5,928.7 655.4,931.0 655.4,933.2 655.3,935.3 655.3,937.2 655.3,938.8 655.3,940.0 655.3,1024.0 812.2,1024.0 812.2,940.0 812.2,938.8 812.2,937.2 812.2,935.3 812.1,933.2 812.1,931.0 812.0,928.7 811.9,926.5 811.7,924.5 811.5,922.6 811.3,920.8 811.0,919.0 810.8,917.1 810.4,915.3 809.9,913.4 809.3,911.5 808.6,909.5 807.7,907.4 806.7,905.3 805.5,903.2 804.3,901.0 802.9,898.8 801.5,896.5 800.0,894.2 798.5,891.8 796.9,889.3 795.1,886.8 793.2,884.1 791.3,881.4 789.3,878.8 787.4,876.1 785.6,873.5 784.0,871.0 782.5,868.5 781.0,866.0 779.5,863.5 778.1,861.0 776.9,858.6 775.7,856.4 774.7,854.4 773.8,852.6 773.1,851.1 772.7,849.9 772.4,848.9 772.2,848.0 772.1,847.3 771.9,846.5 771.8,845.6 771.6,844.6 771.3,843.5 771.1,842.3 770.8,841.1 770.5,839.9 770.3,838.7 770.0,837.5 769.8,836.2 769.6,835.0 769.4,833.8 769.3,832.5 769.2,831.2 769.1,829.9 769.0,828.6 768.9,827.4 768.8,826.2 768.8,825.0 768.8,823.9 768.8,822.9 768.8,821.9 768.8,820.9 768.9,819.9 768.9,819.0 769.0,818.0 769.0,817.0 769.0,815.9 769.1,814.8 769.2,813.6 769.2,812.5 769.3,811.4 769.3,810.4 769.4,809.6 769.4,809.0" fill="none" stroke="#1c1b1a" stroke-width="2.4" stroke-linejoin="round"/>
<rect x="685" y="789.4" width="97" height="55.2" rx="5.5" fill="#0000ff" fill-opacity="0.49" stroke="#1c1b1a" stroke-width="2.4"/>
<g transform="translate(1164.05,860.95) rotate(25.0)">
<clipPath id="b2clip"><polygon points="-37.2,-7.8 -37.2,-7.0 -37.1,-6.0 -37.1,-4.8 -37.0,-3.4 -37.0,-2.0 -36.9,-0.6 -36.8,0.8 -36.8,2.0 -36.8,3.1 -36.7,4.1 -36.7,5.0 -36.6,6.0 -36.6,6.9 -36.6,7.9 -36.6,8.9 -36.6,10.0 -36.6,11.2 -36.7,12.4 -36.8,13.6 -36.9,14.9 -37.0,16.2 -37.1,17.5 -37.2,18.8 -37.4,20.0 -37.6,21.1 -37.7,22.2 -37.9,23.3 -38.1,24.3 -38.3,25.4 -38.5,26.5 -38.8,27.7 -39.2,29.0 -39.6,30.4 -40.0,31.8 -40.4,33.3 -40.9,34.8 -41.4,36.4 -42.1,38.0 -42.8,39.7 -43.6,41.4 -44.6,43.2 -45.7,45.0 -46.9,46.8 -48.1,48.7 -49.5,50.6 -50.8,52.6 -52.2,54.5 -53.5,56.5 -54.8,58.4 -56.2,60.4 -57.6,62.4 -59.0,64.3 -60.4,66.4 -61.8,68.4 -63.2,70.5 -64.5,72.6 -65.8,74.8 -67.1,77.1 -68.5,79.5 -69.8,81.9 -71.0,84.2 -72.3,86.6 -73.4,88.8 -74.5,91.0 -75.5,93.0 -76.5,95.0 -77.5,96.8 -78.3,98.7 -79.2,100.5 -79.9,102.3 -80.6,104.1 -81.2,106.0 -81.7,107.8 -82.1,109.4 -82.4,111.0 -82.6,112.6 -82.8,114.3 -82.9,116.4 -83.1,118.9 -83.2,122.0 -83.3,125.7 -83.4,130.1 -83.4,134.9 -83.4,140.0 -83.4,145.3 -83.4,150.5 -83.4,155.4 -83.4,160.0 -83.4,164.4 -83.4,169.0 -83.4,173.6 -83.4,178.0 -83.4,182.1 -83.4,185.8 -83.4,188.8 -83.4,191.2 -83.4,191.2 -83.1,194.6 -82.3,198.0 -81.0,201.2 -79.2,204.1 -77.0,206.8 -74.3,209.0 -71.4,210.8 -68.2,212.1 -64.8,212.9 -61.4,213.2 69.8,213.2 71.8,213.0 73.8,212.6 75.7,211.8 77.4,210.7 79.0,209.4 80.3,207.8 81.4,206.1 82.2,204.2 82.6,202.2 82.8,200.2 82.8,200.2 82.7,198.7 82.7,196.6 82.6,194.2 82.5,191.5 82.3,188.6 82.2,185.7 82.1,182.8 82.0,180.0 81.9,177.3 81.7,174.5 81.6,171.7 81.4,168.8 81.2,166.0 81.1,163.2 81.0,160.4 81.0,157.7 81.0,155.1 81.1,152.5 81.3,150.0 81.4,147.5 81.6,145.1 81.8,142.6 81.9,140.2 82.0,137.7 82.1,135.2 82.1,132.7 82.2,130.1 82.2,127.6 82.3,125.1 82.3,122.7 82.3,120.3 82.2,118.0 82.1,115.8 82.0,113.7 81.9,111.6 81.8,109.6 81.6,107.6 81.4,105.7 81.1,103.8 80.8,102.0 80.4,100.2 79.9,98.5 79.4,96.9 78.8,95.3 78.2,93.7 77.5,92.1 76.8,90.5 76.0,88.9 75.2,87.2 74.3,85.6 73.4,84.0 72.4,82.3 71.4,80.7 70.3,79.0 69.2,77.2 68.0,75.4 66.7,73.5 65.4,71.6 63.9,69.6 62.5,67.6 60.9,65.6 59.4,63.6 57.9,61.5 56.5,59.5 55.0,57.4 53.6,55.3 52.0,53.1 50.5,51.0 49.1,48.8 47.7,46.8 46.4,44.8 45.3,42.9 44.3,41.1 43.4,39.5 42.6,37.9 41.8,36.4 41.2,34.9 40.6,33.5 40.0,32.0 39.5,30.6 39.1,29.2 38.7,27.8 38.4,26.5 38.1,25.2 37.9,23.9 37.7,22.6 37.6,21.3 37.4,20.0 37.2,18.7 37.1,17.4 37.0,16.1 36.9,14.8 36.8,13.6 36.7,12.3 36.6,11.2 36.6,10.0 36.6,8.9 36.6,7.9 36.6,6.9 36.6,6.0 36.7,5.0 36.7,4.1 36.8,3.1 36.8,2.0 36.8,0.8 36.9,-0.6 37.0,-2.0 37.0,-3.4 37.1,-4.8 37.1,-6.0 37.2,-7.0 37.2,-7.8"/></clipPath>
<polygon points="-37.2,-7.8 -37.2,-7.0 -37.1,-6.0 -37.1,-4.8 -37.0,-3.4 -37.0,-2.0 -36.9,-0.6 -36.8,0.8 -36.8,2.0 -36.8,3.1 -36.7,4.1 -36.7,5.0 -36.6,6.0 -36.6,6.9 -36.6,7.9 -36.6,8.9 -36.6,10.0 -36.6,11.2 -36.7,12.4 -36.8,13.6 -36.9,14.9 -37.0,16.2 -37.1,17.5 -37.2,18.8 -37.4,20.0 -37.6,21.1 -37.7,22.2 -37.9,23.3 -38.1,24.3 -38.3,25.4 -38.5,26.5 -38.8,27.7 -39.2,29.0 -39.6,30.4 -40.0,31.8 -40.4,33.3 -40.9,34.8 -41.4,36.4 -42.1,38.0 -42.8,39.7 -43.6,41.4 -44.6,43.2 -45.7,45.0 -46.9,46.8 -48.1,48.7 -49.5,50.6 -50.8,52.6 -52.2,54.5 -53.5,56.5 -54.8,58.4 -56.2,60.4 -57.6,62.4 -59.0,64.3 -60.4,66.4 -61.8,68.4 -63.2,70.5 -64.5,72.6 -65.8,74.8 -67.1,77.1 -68.5,79.5 -69.8,81.9 -71.0,84.2 -72.3,86.6 -73.4,88.8 -74.5,91.0 -75.5,93.0 -76.5,95.0 -77.5,96.8 -78.3,98.7 -79.2,100.5 -79.9,102.3 -80.6,104.1 -81.2,106.0 -81.7,107.8 -82.1,109.4 -82.4,111.0 -82.6,112.6 -82.8,114.3 -82.9,116.4 -83.1,118.9 -83.2,122.0 -83.3,125.7 -83.4,130.1 -83.4,134.9 -83.4,140.0 -83.4,145.3 -83.4,150.5 -83.4,155.4 -83.4,160.0 -83.4,164.4 -83.4,169.0 -83.4,173.6 -83.4,178.0 -83.4,182.1 -83.4,185.8 -83.4,188.8 -83.4,191.2 -83.4,191.2 -83.1,194.6 -82.3,198.0 -81.0,201.2 -79.2,204.1 -77.0,206.8 -74.3,209.0 -71.4,210.8 -68.2,212.1 -64.8,212.9 -61.4,213.2 69.8,213.2 71.8,213.0 73.8,212.6 75.7,211.8 77.4,210.7 79.0,209.4 80.3,207.8 81.4,206.1 82.2,204.2 82.6,202.2 82.8,200.2 82.8,200.2 82.7,198.7 82.7,196.6 82.6,194.2 82.5,191.5 82.3,188.6 82.2,185.7 82.1,182.8 82.0,180.0 81.9,177.3 81.7,174.5 81.6,171.7 81.4,168.8 81.2,166.0 81.1,163.2 81.0,160.4 81.0,157.7 81.0,155.1 81.1,152.5 81.3,150.0 81.4,147.5 81.6,145.1 81.8,142.6 81.9,140.2 82.0,137.7 82.1,135.2 82.1,132.7 82.2,130.1 82.2,127.6 82.3,125.1 82.3,122.7 82.3,120.3 82.2,118.0 82.1,115.8 82.0,113.7 81.9,111.6 81.8,109.6 81.6,107.6 81.4,105.7 81.1,103.8 80.8,102.0 80.4,100.2 79.9,98.5 79.4,96.9 78.8,95.3 78.2,93.7 77.5,92.1 76.8,90.5 76.0,88.9 75.2,87.2 74.3,85.6 73.4,84.0 72.4,82.3 71.4,80.7 70.3,79.0 69.2,77.2 68.0,75.4 66.7,73.5 65.4,71.6 63.9,69.6 62.5,67.6 60.9,65.6 59.4,63.6 57.9,61.5 56.5,59.5 55.0,57.4 53.6,55.3 52.0,53.1 50.5,51.0 49.1,48.8 47.7,46.8 46.4,44.8 45.3,42.9 44.3,41.1 43.4,39.5 42.6,37.9 41.8,36.4 41.2,34.9 40.6,33.5 40.0,32.0 39.5,30.6 39.1,29.2 38.7,27.8 38.4,26.5 38.1,25.2 37.9,23.9 37.7,22.6 37.6,21.3 37.4,20.0 37.2,18.7 37.1,17.4 37.0,16.1 36.9,14.8 36.8,13.6 36.7,12.3 36.6,11.2 36.6,10.0 36.6,8.9 36.6,7.9 36.6,6.9 36.6,6.0 36.7,5.0 36.7,4.1 36.8,3.1 36.8,2.0 36.8,0.8 36.9,-0.6 37.0,-2.0 37.0,-3.4 37.1,-4.8 37.1,-6.0 37.2,-7.0 37.2,-7.8" fill="#fff"/>
</g>
<g transform="translate(1164.05,860.95) rotate(25.0)"><g clip-path="url(#b2clip)"><g transform="rotate(-25.0) translate(-1164.05,-860.95)">
<polygon points="1010.0,1024.0 1010.5,1024.2 1011.1,1024.5 1011.9,1024.9 1012.7,1025.3 1013.7,1025.7 1014.8,1026.0 1016.0,1026.2 1017.3,1026.3 1018.8,1026.2 1020.5,1026.0 1022.4,1025.7 1024.3,1025.3 1026.3,1024.9 1028.3,1024.6 1030.2,1024.4 1031.9,1024.3 1033.5,1024.4 1035.0,1024.5 1036.4,1024.7 1037.8,1025.0 1039.2,1025.3 1040.6,1025.7 1042.1,1026.2 1043.6,1026.7 1045.2,1027.3 1046.9,1028.1 1048.6,1029.0 1050.3,1029.9 1052.1,1030.8 1053.8,1031.7 1055.6,1032.4 1057.3,1033.1 1059.0,1033.6 1060.7,1034.1 1062.3,1034.5 1064.0,1034.8 1065.7,1035.1 1067.4,1035.4 1069.1,1035.7 1070.9,1036.0 1072.7,1036.3 1074.6,1036.5 1076.4,1036.6 1078.3,1036.8 1080.3,1037.0 1082.3,1037.3 1084.3,1037.6 1086.5,1038.0 1088.8,1038.6 1091.2,1039.3 1093.7,1040.0 1096.3,1040.9 1098.8,1041.7 1101.3,1042.5 1103.7,1043.2 1106.0,1043.8 1108.1,1044.3 1110.2,1044.8 1112.1,1045.2 1114.0,1045.6 1115.9,1045.9 1117.8,1046.1 1119.7,1046.2 1121.6,1046.2 1123.5,1046.1 1125.5,1045.8 1127.4,1045.5 1129.4,1045.0 1131.3,1044.5 1133.3,1044.0 1135.2,1043.4 1137.2,1042.9 1139.2,1042.3 1141.2,1041.6 1143.2,1040.9 1145.2,1040.1 1147.2,1039.4 1149.2,1038.7 1151.0,1038.1 1152.8,1037.6 1154.5,1037.2 1156.0,1036.8 1157.5,1036.5 1158.9,1036.3 1160.3,1036.1 1161.7,1036.0 1163.1,1036.0 1164.5,1036.0 1166.0,1036.1 1167.7,1036.4 1169.3,1036.7 1171.0,1037.2 1172.5,1037.6 1173.9,1038.0 1175.1,1038.3 1176.0,1038.5 1200,1100 1000,1100" fill="#c1a683"/>
<polyline points="1010.0,1024.0 1010.5,1024.2 1011.1,1024.5 1011.9,1024.9 1012.7,1025.3 1013.7,1025.7 1014.8,1026.0 1016.0,1026.2 1017.3,1026.3 1018.8,1026.2 1020.5,1026.0 1022.4,1025.7 1024.3,1025.3 1026.3,1024.9 1028.3,1024.6 1030.2,1024.4 1031.9,1024.3 1033.5,1024.4 1035.0,1024.5 1036.4,1024.7 1037.8,1025.0 1039.2,1025.3 1040.6,1025.7 1042.1,1026.2 1043.6,1026.7 1045.2,1027.3 1046.9,1028.1 1048.6,1029.0 1050.3,1029.9 1052.1,1030.8 1053.8,1031.7 1055.6,1032.4 1057.3,1033.1 1059.0,1033.6 1060.7,1034.1 1062.3,1034.5 1064.0,1034.8 1065.7,1035.1 1067.4,1035.4 1069.1,1035.7 1070.9,1036.0 1072.7,1036.3 1074.6,1036.5 1076.4,1036.6 1078.3,1036.8 1080.3,1037.0 1082.3,1037.3 1084.3,1037.6 1086.5,1038.0 1088.8,1038.6 1091.2,1039.3 1093.7,1040.0 1096.3,1040.9 1098.8,1041.7 1101.3,1042.5 1103.7,1043.2 1106.0,1043.8 1108.1,1044.3 1110.2,1044.8 1112.1,1045.2 1114.0,1045.6 1115.9,1045.9 1117.8,1046.1 1119.7,1046.2 1121.6,1046.2 1123.5,1046.1 1125.5,1045.8 1127.4,1045.5 1129.4,1045.0 1131.3,1044.5 1133.3,1044.0 1135.2,1043.4 1137.2,1042.9 1139.2,1042.3 1141.2,1041.6 1143.2,1040.9 1145.2,1040.1 1147.2,1039.4 1149.2,1038.7 1151.0,1038.1 1152.8,1037.6 1154.5,1037.2 1156.0,1036.8 1157.5,1036.5 1158.9,1036.3 1160.3,1036.1 1161.7,1036.0 1163.1,1036.0 1164.5,1036.0 1166.0,1036.1 1167.7,1036.4 1169.3,1036.7 1171.0,1037.2 1172.5,1037.6 1173.9,1038.0 1175.1,1038.3 1176.0,1038.5" fill="none" stroke="#1c1b1a" stroke-width="2.0"/>
</g></g></g>
<g fill="#d6bc7e" stroke="#1c1b1a" stroke-width="1.8"><circle cx="1045.6" cy="951.2" r="4.6"/><circle cx="1081.1" cy="975.6" r="6.0"/><circle cx="1135.3" cy="992.7" r="4.4"/><circle cx="1034.8" cy="1005.8" r="7.0"/><circle cx="1088.9" cy="1017.9" r="7.0"/><circle cx="1122.2" cy="1023.9" r="4.4"/></g>
<g fill="#1c1b1a"><circle cx="1098.2" cy="902.8" r="1.4"/><circle cx="1067.4" cy="925.1" r="1.4"/><circle cx="1166.1" cy="930.7" r="1.4"/><circle cx="1132.4" cy="937" r="1.4"/><circle cx="1149.3" cy="953.5" r="1.4"/><circle cx="1178.2" cy="958.6" r="1.4"/><circle cx="1109" cy="966.8" r="2.1"/><circle cx="1137.2" cy="975.6" r="1.4"/><circle cx="1154.8" cy="982.8" r="2.1"/></g>
<polyline points="1175.1,790.7 1173.5,794.2 1171.3,798.7 1168.8,804.2 1166.0,810.2 1163.0,816.6 1160.0,823.1 1157.0,829.4 1154.3,835.3 1151.6,841.0 1148.8,847.0 1146.0,853.1 1143.2,859.1 1140.5,864.9 1137.9,870.4 1135.6,875.4 1133.5,879.8 1131.8,883.5 1130.4,886.5 1129.2,889.0 1128.2,891.2 1127.2,893.2 1126.1,895.2 1125.0,897.2 1123.6,899.5 1122.0,902.0 1120.4,904.5 1118.7,907.0 1116.9,909.5 1115.0,912.0 1113.1,914.4 1111.1,916.8 1109.0,919.0 1106.8,921.1 1104.5,923.2 1102.0,925.2 1099.6,927.2 1097.0,929.1 1094.5,930.9 1092.0,932.8 1089.5,934.6 1087.0,936.4 1084.5,938.1 1081.9,939.8 1079.3,941.5 1076.8,943.1 1074.4,944.8 1072.1,946.5 1070.0,948.3 1068.1,950.1 1066.2,951.9 1064.5,953.8 1062.9,955.6 1061.4,957.5 1060.0,959.5 1058.7,961.7 1057.5,963.9 1056.4,966.3 1055.3,968.8 1054.4,971.5 1053.5,974.2 1052.8,977.0 1052.1,979.8 1051.7,982.6 1051.4,985.3 1051.3,988.0 1051.3,990.7 1051.4,993.4 1051.7,996.0 1052.2,998.7 1052.7,1001.4 1053.4,1004.1 1054.2,1006.8 1055.1,1009.5 1056.1,1012.2 1057.2,1014.9 1058.5,1017.6 1059.9,1020.3 1061.4,1023.0 1063.2,1025.6 1065.1,1028.2 1067.3,1030.8 1069.8,1033.4 1072.4,1036.0 1075.3,1038.6 1078.2,1041.0 1081.0,1043.4 1083.8,1045.6 1086.5,1047.7 1089.0,1049.5 1091.4,1051.2 1093.8,1052.7 1096.2,1054.1 1098.6,1055.5 1101.0,1056.8 1103.4,1058.1 1106.0,1059.4 1108.8,1060.8 1111.9,1062.3 1115.2,1063.8 1118.5,1065.2 1121.6,1066.6 1124.4,1067.8 1126.7,1068.8 1128.5,1069.6" fill="none" stroke="#1c1b1a" stroke-width="7.8" stroke-linecap="butt" stroke-linejoin="round"/>
<polyline points="1174.2,792.5 1173.5,794.2 1171.3,798.7 1168.8,804.2 1166.0,810.2 1163.0,816.6 1160.0,823.1 1157.0,829.4 1154.3,835.3 1151.6,841.0 1148.8,847.0 1146.0,853.1 1143.2,859.1 1140.5,864.9 1137.9,870.4 1135.6,875.4 1133.5,879.8 1131.8,883.5 1130.4,886.5 1129.2,889.0 1128.2,891.2 1127.2,893.2 1126.1,895.2 1125.0,897.2 1123.6,899.5 1122.0,902.0 1120.4,904.5 1118.7,907.0 1116.9,909.5 1115.0,912.0 1113.1,914.4 1111.1,916.8 1109.0,919.0 1106.8,921.1 1104.5,923.2 1102.0,925.2 1099.6,927.2 1097.0,929.1 1094.5,930.9 1092.0,932.8 1089.5,934.6 1087.0,936.4 1084.5,938.1 1081.9,939.8 1079.3,941.5 1076.8,943.1 1074.4,944.8 1072.1,946.5 1070.0,948.3 1068.1,950.1 1066.2,951.9 1064.5,953.8 1062.9,955.6 1061.4,957.5 1060.0,959.5 1058.7,961.7 1057.5,963.9 1056.4,966.3 1055.3,968.8 1054.4,971.5 1053.5,974.2 1052.8,977.0 1052.1,979.8 1051.7,982.6 1051.4,985.3 1051.3,988.0 1051.3,990.7 1051.4,993.4 1051.7,996.0 1052.2,998.7 1052.7,1001.4 1053.4,1004.1 1054.2,1006.8 1055.1,1009.5 1056.1,1012.2 1057.2,1014.9 1058.5,1017.6 1059.9,1020.3 1061.4,1023.0 1063.2,1025.6 1065.1,1028.2 1067.3,1030.8 1069.8,1033.4 1072.4,1036.0 1075.3,1038.6 1078.2,1041.0 1081.0,1043.4 1083.8,1045.6 1086.5,1047.7 1089.0,1049.5 1091.4,1051.2 1093.8,1052.7 1096.2,1054.1 1098.6,1055.5 1101.0,1056.8 1103.4,1058.1 1106.0,1059.4 1108.8,1060.8 1111.9,1062.3 1115.2,1063.8 1118.5,1065.2 1121.6,1066.6 1124.4,1067.8 1126.7,1068.8 1126.7,1068.8" fill="none" stroke="#dddfde" stroke-width="3.6" stroke-linecap="butt" stroke-linejoin="round"/>
<g transform="translate(1164.05,860.95) rotate(25.0)">
<polygon points="-37.2,-7.8 -37.2,-7.0 -37.1,-6.0 -37.1,-4.8 -37.0,-3.4 -37.0,-2.0 -36.9,-0.6 -36.8,0.8 -36.8,2.0 -36.8,3.1 -36.7,4.1 -36.7,5.0 -36.6,6.0 -36.6,6.9 -36.6,7.9 -36.6,8.9 -36.6,10.0 -36.6,11.2 -36.7,12.4 -36.8,13.6 -36.9,14.9 -37.0,16.2 -37.1,17.5 -37.2,18.8 -37.4,20.0 -37.6,21.1 -37.7,22.2 -37.9,23.3 -38.1,24.3 -38.3,25.4 -38.5,26.5 -38.8,27.7 -39.2,29.0 -39.6,30.4 -40.0,31.8 -40.4,33.3 -40.9,34.8 -41.4,36.4 -42.1,38.0 -42.8,39.7 -43.6,41.4 -44.6,43.2 -45.7,45.0 -46.9,46.8 -48.1,48.7 -49.5,50.6 -50.8,52.6 -52.2,54.5 -53.5,56.5 -54.8,58.4 -56.2,60.4 -57.6,62.4 -59.0,64.3 -60.4,66.4 -61.8,68.4 -63.2,70.5 -64.5,72.6 -65.8,74.8 -67.1,77.1 -68.5,79.5 -69.8,81.9 -71.0,84.2 -72.3,86.6 -73.4,88.8 -74.5,91.0 -75.5,93.0 -76.5,95.0 -77.5,96.8 -78.3,98.7 -79.2,100.5 -79.9,102.3 -80.6,104.1 -81.2,106.0 -81.7,107.8 -82.1,109.4 -82.4,111.0 -82.6,112.6 -82.8,114.3 -82.9,116.4 -83.1,118.9 -83.2,122.0 -83.3,125.7 -83.4,130.1 -83.4,134.9 -83.4,140.0 -83.4,145.3 -83.4,150.5 -83.4,155.4 -83.4,160.0 -83.4,164.4 -83.4,169.0 -83.4,173.6 -83.4,178.0 -83.4,182.1 -83.4,185.8 -83.4,188.8 -83.4,191.2 -83.4,191.2 -83.1,194.6 -82.3,198.0 -81.0,201.2 -79.2,204.1 -77.0,206.8 -74.3,209.0 -71.4,210.8 -68.2,212.1 -64.8,212.9 -61.4,213.2 69.8,213.2 71.8,213.0 73.8,212.6 75.7,211.8 77.4,210.7 79.0,209.4 80.3,207.8 81.4,206.1 82.2,204.2 82.6,202.2 82.8,200.2 82.8,200.2 82.7,198.7 82.7,196.6 82.6,194.2 82.5,191.5 82.3,188.6 82.2,185.7 82.1,182.8 82.0,180.0 81.9,177.3 81.7,174.5 81.6,171.7 81.4,168.8 81.2,166.0 81.1,163.2 81.0,160.4 81.0,157.7 81.0,155.1 81.1,152.5 81.3,150.0 81.4,147.5 81.6,145.1 81.8,142.6 81.9,140.2 82.0,137.7 82.1,135.2 82.1,132.7 82.2,130.1 82.2,127.6 82.3,125.1 82.3,122.7 82.3,120.3 82.2,118.0 82.1,115.8 82.0,113.7 81.9,111.6 81.8,109.6 81.6,107.6 81.4,105.7 81.1,103.8 80.8,102.0 80.4,100.2 79.9,98.5 79.4,96.9 78.8,95.3 78.2,93.7 77.5,92.1 76.8,90.5 76.0,88.9 75.2,87.2 74.3,85.6 73.4,84.0 72.4,82.3 71.4,80.7 70.3,79.0 69.2,77.2 68.0,75.4 66.7,73.5 65.4,71.6 63.9,69.6 62.5,67.6 60.9,65.6 59.4,63.6 57.9,61.5 56.5,59.5 55.0,57.4 53.6,55.3 52.0,53.1 50.5,51.0 49.1,48.8 47.7,46.8 46.4,44.8 45.3,42.9 44.3,41.1 43.4,39.5 42.6,37.9 41.8,36.4 41.2,34.9 40.6,33.5 40.0,32.0 39.5,30.6 39.1,29.2 38.7,27.8 38.4,26.5 38.1,25.2 37.9,23.9 37.7,22.6 37.6,21.3 37.4,20.0 37.2,18.7 37.1,17.4 37.0,16.1 36.9,14.8 36.8,13.6 36.7,12.3 36.6,11.2 36.6,10.0 36.6,8.9 36.6,7.9 36.6,6.9 36.6,6.0 36.7,5.0 36.7,4.1 36.8,3.1 36.8,2.0 36.8,0.8 36.9,-0.6 37.0,-2.0 37.0,-3.4 37.1,-4.8 37.1,-6.0 37.2,-7.0 37.2,-7.8" fill="none" stroke="#1c1b1a" stroke-width="2.4" stroke-linejoin="round"/>
<rect x="8.2" y="-68.3" width="12.6" height="129.5" fill="#dddfde" stroke="#1c1b1a" stroke-width="2.3"/>
<rect x="-136.6" y="104.3" width="50.8" height="87" rx="6.5" fill="#dddfde" stroke="#1c1b1a" stroke-width="2.2"/>
<rect x="-86.8" y="110" width="6.6" height="74" fill="#1c1b1a"/>
<rect x="-138.5" y="141.6" width="220" height="14.7" fill="#b1b3b6" stroke="#1c1b1a" stroke-width="2.0"/>
<path d="M-125.9,141.6 v14.7 M-114.9,141.6 v14.7 M-103.9,141.6 v14.7 M-92.9,141.6 v14.7 M-81.9,141.6 v14.7 M-70.9,141.6 v14.7 M-59.9,141.6 v14.7 M-48.9,141.6 v14.7 M-37.9,141.6 v14.7 M-26.9,141.6 v14.7 M-15.9,141.6 v14.7 M-4.9,141.6 v14.7 M6.1,141.6 v14.7 M17.1,141.6 v14.7 M28.1,141.6 v14.7 M39.1,141.6 v14.7 M50.1,141.6 v14.7 M61.1,141.6 v14.7 M72.1,141.6 v14.7 " stroke="#1c1b1a" stroke-width="2.0" fill="none"/>
<rect x="-50.2" y="-27.7" width="100.4" height="55.4" rx="5.8" fill="#0000ff" fill-opacity="0.49" stroke="#1c1b1a" stroke-width="2.4"/>
</g>
</svg></body></html>
